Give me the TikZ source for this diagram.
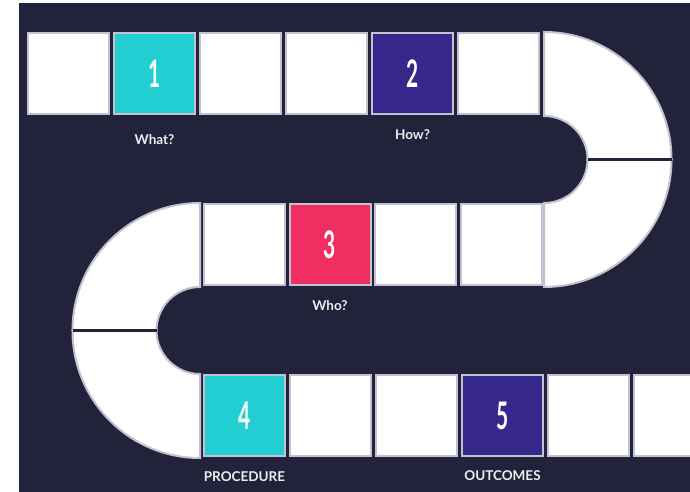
\documentclass[tikz,border=0pt]{standalone}
\usepackage{fontspec}
\setmainfont{Lato}
\newfontfamily\numfont[FakeStretch=0.55]{Lato}
\usetikzlibrary{positioning}

\definecolor{boardbg}{HTML}{22223A}
\definecolor{cellline}{HTML}{C2C2D2}
\definecolor{stepteal}{HTML}{22CED2}
\definecolor{steppurple}{HTML}{36288A}
\definecolor{steppink}{HTML}{F02E62}

\begin{document}
\begin{tikzpicture}[
  x=1pt, y=1pt,
  node distance=2.5pt,
  cell/.style={rectangle, fill=white, draw=cellline, line width=2pt, minimum size=81pt, inner sep=0pt, font=\numfont\bfseries\fontsize{38}{38}\selectfont, text=white},
  tealcell/.style={cell, fill=stepteal},
  purplecell/.style={cell, fill=steppurple},
  pinkcell/.style={cell, fill=steppink},
  turn/.style={fill=white, draw=cellline, line width=2pt},
  split/.style={draw=boardbg, line width=2.5pt},
  caption/.style={font=\bfseries\fontsize{13.5}{15}\selectfont, text=white!92!boardbg, inner sep=0pt}
]
\useasboundingbox (0,0) rectangle (690,492);
\clip (0,0) rectangle (690,492);
\fill[boardbg] (19,0) rectangle (690,489);

% top row
\node[cell] (r1a) at (68.5,418) {};
\node[tealcell, right=3pt of r1a] (r1b) {1};
\node[cell, right=3pt of r1b] (r1c) {};
\node[cell, right=3pt of r1c] (r1d) {};
\node[purplecell, right=3pt of r1d] (r1e) {2};
\node[cell, right=3pt of r1e] (r1f) {};

% right turn
\draw[turn] (544,460) arc[start angle=90, end angle=0, radius=127.5] -- (587.5,332.5) arc[start angle=0, end angle=90, radius=43.5] -- cycle;
\draw[turn] (544,205) arc[start angle=-90, end angle=0, radius=127.5] -- (587.5,332.5) arc[start angle=0, end angle=-90, radius=43.5] -- cycle;
\draw[split] (587.5,332.5) -- (671.5,332.5);

% middle row
\node[cell] (r2a) at (244.5,247) {};
\node[pinkcell, right=of r2a] (r2b) {3};
\node[cell, right=of r2b] (r2c) {};
\node[cell, right=of r2c] (r2d) {};

% left turn
\draw[turn] (200,289) arc[start angle=90, end angle=180, radius=127.5] -- (156.5,161.5) arc[start angle=180, end angle=90, radius=43.5] -- cycle;
\draw[turn] (200,34) arc[start angle=-90, end angle=-180, radius=127.5] -- (156.5,161.5) arc[start angle=180, end angle=270, radius=43.5] -- cycle;
\draw[split] (72.5,161.5) -- (156.5,161.5);

% bottom row
\node[tealcell] (r3a) at (244.5,76) {4};
\node[cell, right=3pt of r3a] (r3b) {};
\node[cell, right=3pt of r3b] (r3c) {};
\node[purplecell, right=3pt of r3c] (r3d) {5};
\node[cell, right=3pt of r3d] (r3e) {};
\node[cell, right=3pt of r3e] (r3f) {};

% captions
\node[caption, below=19pt of r1b] (what) {What?};
\node[caption, below=14pt of r1e] (how) {How?};
\node[caption, below=14pt of r2b] (who) {Who?};
\node[caption, below=14pt of r3a] (procedure) {PROCEDURE};
\node[caption, below=13pt of r3d] (outcomes) {OUTCOMES};
\end{tikzpicture}
\end{document}
